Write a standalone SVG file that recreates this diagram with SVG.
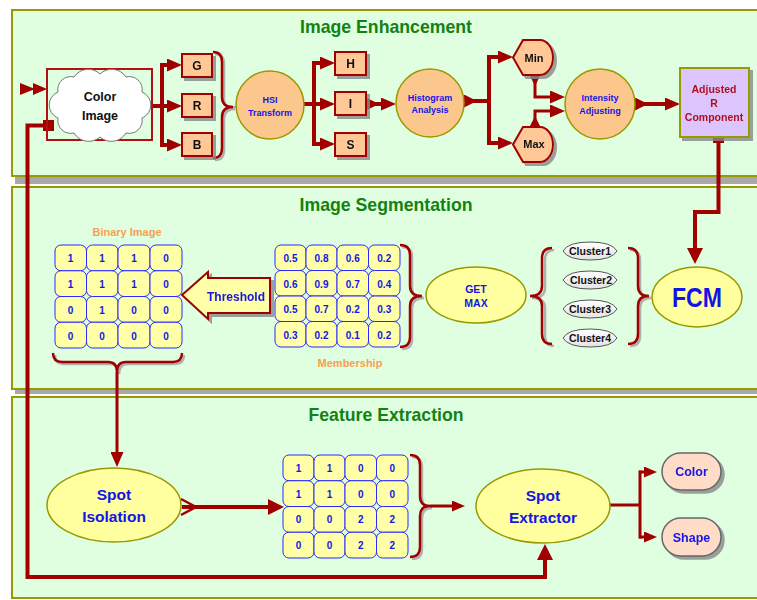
<svg xmlns="http://www.w3.org/2000/svg" width="757" height="600" viewBox="0 0 757 600">
  <defs>
    <style>
      .panel { fill: #e0ffe0; stroke: #999900; stroke-width: 2; }
      .band { fill: #a8a8a8; }
      .title { font-family: "Liberation Sans", Arial, sans-serif; font-weight: bold; font-size: 19px; fill: #128212; text-anchor: middle; }
      .lbl { font-family: "Liberation Sans", Arial, sans-serif; font-weight: bold; text-anchor: middle; }
      .blue { fill: #1414e6; }
      .blk { fill: #111; }
      .orange { fill: #f8a050; font-size: 11px; }
      .box { fill: #ffc896; stroke: #a00000; stroke-width: 2; }
      .circ { fill: #fcc78c; stroke: #999900; stroke-width: 1.5; }
      .ell { fill: #ffffa0; stroke: #999900; stroke-width: 1.5; }
      .cell { fill: #ffffa8; stroke: #2a2aff; stroke-width: 1; }
      .num { font-family: "Liberation Sans", Arial, sans-serif; font-weight: bold; font-size: 10px; fill: #1414e6; text-anchor: middle; }
      .wire { fill: none; stroke: #a00000; stroke-width: 4; }
      .thin { fill: none; stroke: #a00000; stroke-width: 3; }
      .brace { fill: none; stroke: #a00000; stroke-width: 2.5; }
      .braceSh { fill: none; stroke: #b0b0b0; stroke-width: 2.5; }
    </style>
    <marker id="ah" markerUnits="userSpaceOnUse" markerWidth="15" markerHeight="13" refX="10" refY="6.5" orient="auto">
      <path d="M0,0 L15,6.5 L0,13 Z" fill="#a00000"/>
    </marker>
    <marker id="ahBig" markerUnits="userSpaceOnUse" markerWidth="16" markerHeight="16" refX="11" refY="8" orient="auto">
      <path d="M0,0 L16,8 L0,16 Z" fill="#a00000"/>
    </marker>
    <marker id="ahSm" markerUnits="userSpaceOnUse" markerWidth="13" markerHeight="11" refX="9" refY="5.5" orient="auto">
      <path d="M0,0 L13,5.5 L0,11 Z" fill="#a00000"/>
    </marker>
    <marker id="st" markerUnits="userSpaceOnUse" markerWidth="13" markerHeight="13" refX="0" refY="6.5" orient="auto">
      <path d="M0,0 L13,6.5 L0,13 Z" fill="#a00000"/>
    </marker>
    <marker id="stSm" markerUnits="userSpaceOnUse" markerWidth="11" markerHeight="11" refX="0" refY="5.5" orient="auto">
      <path d="M0,0 L11,5.5 L0,11 Z" fill="#a00000"/>
    </marker>
    <filter id="sh" x="-20%" y="-20%" width="150%" height="150%">
      <feDropShadow dx="3" dy="3" stdDeviation="0.6" flood-color="#888" flood-opacity="0.8"/>
    </filter>
    <linearGradient id="clusterFill" x1="0" y1="0" x2="0" y2="1">
      <stop offset="0" stop-color="#ffffff"/>
      <stop offset="1" stop-color="#e4e4e4"/>
    </linearGradient>
  </defs>

  <!-- background panels -->
  <g id="panels">
    <rect x="0" y="0" width="757" height="600" fill="#ffffff"/>
    <rect class="panel" x="12" y="10" width="760" height="166"/>
    <rect class="band" x="15" y="177" width="742" height="7"/>
    <rect class="panel" x="12" y="187" width="760" height="202"/>
    <rect class="band" x="15" y="390" width="742" height="4"/>
    <rect class="panel" x="12" y="397" width="760" height="201"/>
    <text class="title" x="386" y="33" textLength="172" lengthAdjust="spacingAndGlyphs">Image Enhancement</text>
    <text class="title" x="386" y="211" textLength="173" lengthAdjust="spacingAndGlyphs">Image Segmentation</text>
    <text class="title" x="386" y="421" textLength="155" lengthAdjust="spacingAndGlyphs">Feature Extraction</text>
  </g>

  <!-- connectors -->
  <g id="connectors">
    <!-- input into the colour image -->
    <polygon points="20,83 35,89 20,95" fill="#a00000"/>
    <polygon points="33,83 47,89 33,95" fill="#a00000"/>

    <!-- colour image to G / R / B -->
    <path class="wire" d="M152,106 H162"/>
    <path class="wire" d="M162,63 V147"/>
    <path class="wire" d="M160,65 H177" marker-end="url(#ah)"/>
    <path class="wire" d="M160,106 H177" marker-end="url(#ah)"/>
    <path class="wire" d="M160,145 H177" marker-end="url(#ah)"/>

    <!-- brace gathering G / R / B into HSI -->
    <path class="braceSh" d="M215,54 Q224,54 224,64 V99 Q224,109 235,109 Q224,109 224,119 V150 Q224,160 215,160"/>
    <path class="brace" d="M213,52 Q222,52 222,62 V97 Q222,107 233,107 Q222,107 222,117 V148 Q222,158 213,158"/>
    <path d="M233,107 H237" stroke="#999" stroke-width="1.5"/>

    <!-- HSI to H / I / S -->
    <path class="wire" d="M304,104 H314"/>
    <path class="wire" d="M314,61 V146"/>
    <path class="wire" d="M312,63 H330" marker-end="url(#ah)"/>
    <path class="wire" d="M312,104 H330" marker-end="url(#ah)"/>
    <path class="wire" d="M312,144 H330" marker-end="url(#ah)"/>

    <!-- I to histogram analysis -->
    <path class="wire" d="M366,104 H391" marker-start="url(#st)" marker-end="url(#ah)"/>

    <!-- histogram analysis to Min / Max -->
    <path class="wire" d="M464,101 H489" marker-start="url(#st)"/>
    <path class="wire" d="M489,55 V145"/>
    <path class="wire" d="M487,57 H508" marker-end="url(#ah)"/>
    <path class="wire" d="M487,143 H508" marker-end="url(#ah)"/>

    <!-- Min / Max into intensity adjusting -->
    <path class="thin" d="M535,75 V97 H560" marker-start="url(#stSm)" marker-end="url(#ah)"/>
    <path class="thin" d="M535,127 V111 H560" marker-start="url(#stSm)" marker-end="url(#ah)"/>

    <!-- intensity adjusting to adjusted R component -->
    <path class="wire" d="M635,104 H675" marker-start="url(#st)" marker-end="url(#ah)"/>

    <!-- adjusted R component down to FCM -->
    <path class="wire" d="M718.5,137 V212 H695 V259" marker-end="url(#ahBig)"/>
    <rect x="713" y="132" width="11" height="11" fill="#a00000"/>

    <!-- braces around the clusters -->
    <path class="braceSh" d="M554,250 Q545,250 545,260 V288 Q545,298 532,298 Q545,298 545,308 V336 Q545,346 554,346"/>
    <path class="brace" d="M552,248 Q542,248 542,258 V286 Q542,296 530,296 Q542,296 542,306 V334 Q542,344 552,344"/>
    <path class="braceSh" d="M630,250 Q640,250 640,260 V288 Q640,298 651,298 Q640,298 640,308 V336 Q640,346 630,346"/>
    <path class="brace" d="M628,248 Q638,248 638,258 V286 Q638,296 649,296 Q638,296 638,306 V334 Q638,344 628,344"/>

    <!-- brace after the membership matrix -->
    <path class="braceSh" d="M402,247 Q412,247 412,257 V288 Q412,298 424,298 Q412,298 412,308 V339 Q412,349 402,349"/>
    <path class="brace" d="M400,245 Q410,245 410,255 V286 Q410,296 422,296 Q410,296 410,306 V337 Q410,347 400,347"/>

    <!-- brace under the binary image, down to spot isolation -->
    <path class="braceSh" d="M55,355 Q55,364 64,364 L110,364 Q119,364 119,374 Q119,364 128,364 L175,364 Q184,364 184,355"/>
    <path class="brace" d="M53,353 Q53,362 62,362 L108,362 Q117,362 117,372 Q117,362 126,362 L173,362 Q182,362 182,353"/>
    <path class="thin" d="M117,372 V462" marker-end="url(#ah)"/>

    <!-- loop from the colour image to the spot extractor -->
    <path class="wire" d="M48,125.5 H27.5 V577 H545 V549" marker-end="url(#ahBig)"/>
    <rect x="43" y="120" width="11" height="11" fill="#a00000"/>

    <!-- spot isolation to the labelled matrix -->
    <path class="wire" d="M182,507 H279" marker-end="url(#ahBig)"/>
    <path d="M181,499 L196,507 L181,515" fill="none" stroke="#a00000" stroke-width="2.5"/>

    <!-- brace after the labelled matrix, into spot extractor -->
    <path class="braceSh" d="M412,457 Q422,457 422,467 V498 Q422,508 432,508 Q422,508 422,518 V549 Q422,559 412,559"/>
    <path class="brace" d="M410,455 Q420,455 420,465 V496 Q420,506 430,506 Q420,506 420,516 V547 Q420,557 410,557"/>
    <path class="thin" d="M430,506 H461" marker-end="url(#ahSm)"/>

    <!-- spot extractor to Color / Shape -->
    <path class="thin" d="M610,505 H640"/>
    <path class="thin" d="M640,470.5 V538.5"/>
    <path class="thin" d="M639,472 H653" marker-end="url(#ahSm)"/>
    <path class="thin" d="M639,537 H653" marker-end="url(#ahSm)"/>
  </g>

  <!-- Image Enhancement nodes -->
  <g id="color-image">
    <rect x="47" y="69" width="105" height="71" fill="none" stroke="#b01010" stroke-width="2"/>
    <path d="M58,92 A13,13 0 0 1 74,77 A17,17 0 0 1 100,74 A17,17 0 0 1 126,77 A13,13 0 0 1 142,92 A14,14 0 0 1 142,118 A13,13 0 0 1 126,133 A17,17 0 0 1 100,137 A17,17 0 0 1 74,133 A13,13 0 0 1 58,118 A14,14 0 0 1 58,92 Z" fill="#ffffff" stroke="#777" stroke-width="1"/>
    <text class="lbl blk" x="100" y="101" font-size="12.5">Color</text>
    <text class="lbl blk" x="100" y="120" font-size="12.5">Image</text>
  </g>
  <g id="ch-g" filter="url(#sh)">
    <rect class="box" x="182" y="54" width="30" height="23"/>
    <text class="lbl blk" x="197" y="70" font-size="12">G</text>
  </g>
  <g id="ch-r" filter="url(#sh)">
    <rect class="box" x="182" y="94" width="30" height="23"/>
    <text class="lbl blk" x="197" y="110" font-size="12">R</text>
  </g>
  <g id="ch-b" filter="url(#sh)">
    <rect class="box" x="182" y="133" width="30" height="23"/>
    <text class="lbl blk" x="197" y="149" font-size="12">B</text>
  </g>
  <g id="hsi">
    <circle class="circ" cx="270" cy="105" r="34"/>
    <text class="lbl blue" x="270" y="103" font-size="9">HSI</text>
    <text class="lbl blue" x="270" y="116" font-size="9">Transform</text>
  </g>
  <g id="ch-h" filter="url(#sh)">
    <rect class="box" x="335" y="52" width="31" height="23"/>
    <text class="lbl blk" x="350.5" y="68" font-size="12">H</text>
  </g>
  <g id="ch-i" filter="url(#sh)">
    <rect class="box" x="335" y="92" width="31" height="23"/>
    <text class="lbl blk" x="350.5" y="108" font-size="12">I</text>
  </g>
  <g id="ch-s" filter="url(#sh)">
    <rect class="box" x="335" y="133" width="31" height="23"/>
    <text class="lbl blk" x="350.5" y="149" font-size="12">S</text>
  </g>
  <g id="histogram">
    <circle class="circ" cx="430" cy="103" r="34"/>
    <text class="lbl blue" x="430" y="101" font-size="9">Histogram</text>
    <text class="lbl blue" x="430" y="113" font-size="9">Analysis</text>
  </g>
  <g id="min" filter="url(#sh)">
    <path class="box" d="M513,57.5 L523,40 L540,40 A13,17.5 0 0 1 540,75 L523,75 Z"/>
    <text class="lbl blk" x="534" y="62" font-size="11">Min</text>
  </g>
  <g id="max" filter="url(#sh)">
    <path class="box" d="M513,144.5 L523,127 L540,127 A13,17.5 0 0 1 540,162 L523,162 Z"/>
    <text class="lbl blk" x="534" y="148" font-size="11">Max</text>
  </g>
  <g id="intensity">
    <circle class="circ" cx="600" cy="104" r="35"/>
    <text class="lbl blue" x="600" y="101" font-size="9">Intensity</text>
    <text class="lbl blue" x="600" y="114" font-size="9">Adjusting</text>
  </g>
  <g id="adjusted-r" filter="url(#sh)">
    <rect x="680" y="68" width="69" height="69" fill="#dcc4fc" stroke="#999900" stroke-width="2"/>
    <text class="lbl" x="714" y="93" font-size="10.5" fill="#b01020">Adjusted</text>
    <text class="lbl" x="714" y="107" font-size="10.5" fill="#b01020">R</text>
    <text class="lbl" x="714" y="121" font-size="10.5" fill="#b01020">Component</text>
  </g>

  <!-- Image Segmentation nodes -->
  <g id="binary-image">
    <text class="lbl orange" x="127" y="236">Binary Image</text>
    <rect class="cell" x="55" y="245" width="31.5" height="25.75" rx="6"/>
    <rect class="cell" x="86.5" y="245" width="31.5" height="25.75" rx="6"/>
    <rect class="cell" x="118" y="245" width="32" height="25.75" rx="6"/>
    <rect class="cell" x="150" y="245" width="32" height="25.75" rx="6"/>
    <rect class="cell" x="55" y="270.75" width="31.5" height="25.75" rx="6"/>
    <rect class="cell" x="86.5" y="270.75" width="31.5" height="25.75" rx="6"/>
    <rect class="cell" x="118" y="270.75" width="32" height="25.75" rx="6"/>
    <rect class="cell" x="150" y="270.75" width="32" height="25.75" rx="6"/>
    <rect class="cell" x="55" y="296.5" width="31.5" height="25.75" rx="6"/>
    <rect class="cell" x="86.5" y="296.5" width="31.5" height="25.75" rx="6"/>
    <rect class="cell" x="118" y="296.5" width="32" height="25.75" rx="6"/>
    <rect class="cell" x="150" y="296.5" width="32" height="25.75" rx="6"/>
    <rect class="cell" x="55" y="322.25" width="31.5" height="25.75" rx="6"/>
    <rect class="cell" x="86.5" y="322.25" width="31.5" height="25.75" rx="6"/>
    <rect class="cell" x="118" y="322.25" width="32" height="25.75" rx="6"/>
    <rect class="cell" x="150" y="322.25" width="32" height="25.75" rx="6"/>
    <text class="num" x="70.5" y="262">1</text><text class="num" x="102" y="262">1</text><text class="num" x="134" y="262">1</text><text class="num" x="166" y="262">0</text>
    <text class="num" x="70.5" y="288">1</text><text class="num" x="102" y="288">1</text><text class="num" x="134" y="288">1</text><text class="num" x="166" y="288">0</text>
    <text class="num" x="70.5" y="313.5">0</text><text class="num" x="102" y="313.5">1</text><text class="num" x="134" y="313.5">0</text><text class="num" x="166" y="313.5">0</text>
    <text class="num" x="70.5" y="339.5">0</text><text class="num" x="102" y="339.5">0</text><text class="num" x="134" y="339.5">0</text><text class="num" x="166" y="339.5">0</text>
  </g>
  <g id="threshold" filter="url(#sh)">
    <polygon points="182,295 208,272 208,278 270,278 270,313 208,313 208,319" fill="#ffffa8" stroke="#a00000" stroke-width="2"/>
    <text class="lbl blue" x="236" y="301" font-size="12">Threshold</text>
  </g>
  <g id="membership">
    <rect class="cell" x="275" y="245" width="31" height="25.5" rx="6"/>
    <rect class="cell" x="306" y="245" width="31" height="25.5" rx="6"/>
    <rect class="cell" x="337" y="245" width="31.5" height="25.5" rx="6"/>
    <rect class="cell" x="368.5" y="245" width="31.5" height="25.5" rx="6"/>
    <rect class="cell" x="275" y="270.5" width="31" height="25.5" rx="6"/>
    <rect class="cell" x="306" y="270.5" width="31" height="25.5" rx="6"/>
    <rect class="cell" x="337" y="270.5" width="31.5" height="25.5" rx="6"/>
    <rect class="cell" x="368.5" y="270.5" width="31.5" height="25.5" rx="6"/>
    <rect class="cell" x="275" y="296" width="31" height="25.5" rx="6"/>
    <rect class="cell" x="306" y="296" width="31" height="25.5" rx="6"/>
    <rect class="cell" x="337" y="296" width="31.5" height="25.5" rx="6"/>
    <rect class="cell" x="368.5" y="296" width="31.5" height="25.5" rx="6"/>
    <rect class="cell" x="275" y="321.5" width="31" height="25.5" rx="6"/>
    <rect class="cell" x="306" y="321.5" width="31" height="25.5" rx="6"/>
    <rect class="cell" x="337" y="321.5" width="31.5" height="25.5" rx="6"/>
    <rect class="cell" x="368.5" y="321.5" width="31.5" height="25.5" rx="6"/>
    <text class="num" x="290.5" y="262">0.5</text><text class="num" x="321.5" y="262">0.8</text><text class="num" x="352.75" y="262">0.6</text><text class="num" x="384.25" y="262">0.2</text>
    <text class="num" x="290.5" y="287.5">0.6</text><text class="num" x="321.5" y="287.5">0.9</text><text class="num" x="352.75" y="287.5">0.7</text><text class="num" x="384.25" y="287.5">0.4</text>
    <text class="num" x="290.5" y="313">0.5</text><text class="num" x="321.5" y="313">0.7</text><text class="num" x="352.75" y="313">0.2</text><text class="num" x="384.25" y="313">0.3</text>
    <text class="num" x="290.5" y="338.5">0.3</text><text class="num" x="321.5" y="338.5">0.2</text><text class="num" x="352.75" y="338.5">0.1</text><text class="num" x="384.25" y="338.5">0.2</text>
    <text class="lbl orange" x="350" y="367">Membership</text>
  </g>
  <g id="get-max">
    <ellipse class="ell" cx="476" cy="295" rx="50" ry="28"/>
    <text class="lbl blue" x="476" y="293" font-size="10.5">GET</text>
    <text class="lbl blue" x="476" y="307" font-size="10.5">MAX</text>
  </g>
  <g id="cluster1">
    <path d="M563,251 Q568,242 590,242 Q612,242 617,251 Q612,260 590,260 Q568,260 563,251 Z" fill="url(#clusterFill)" stroke="#555" stroke-width="1"/>
    <text class="lbl blk" x="590" y="255" font-size="10.5">Cluster1</text>
  </g>
  <g id="cluster2">
    <path d="M563,280 Q568,271 590,271 Q612,271 617,280 Q612,289 590,289 Q568,289 563,280 Z" fill="url(#clusterFill)" stroke="#555" stroke-width="1"/>
    <text class="lbl blk" x="591" y="284" font-size="10.5">Cluster2</text>
  </g>
  <g id="cluster3">
    <path d="M563,309 Q568,300 590,300 Q612,300 617,309 Q612,318 590,318 Q568,318 563,309 Z" fill="url(#clusterFill)" stroke="#555" stroke-width="1"/>
    <text class="lbl blk" x="590" y="313" font-size="10.5">Cluster3</text>
  </g>
  <g id="cluster4">
    <path d="M563,338 Q568,329 590,329 Q612,329 617,338 Q612,347 590,347 Q568,347 563,338 Z" fill="url(#clusterFill)" stroke="#555" stroke-width="1"/>
    <text class="lbl blk" x="590" y="342" font-size="10.5">Cluster4</text>
  </g>
  <g id="fcm">
    <ellipse class="ell" cx="697" cy="297" rx="45" ry="30"/>
    <text class="lbl blue" x="697" y="307" font-size="27" textLength="50" lengthAdjust="spacingAndGlyphs">FCM</text>
  </g>

  <!-- Feature Extraction nodes -->
  <g id="spot-isolation">
    <ellipse class="ell" cx="114" cy="505" rx="67" ry="37"/>
    <text class="lbl blue" x="114" y="500" font-size="15.5">Spot</text>
    <text class="lbl blue" x="114" y="522" font-size="15.5">Isolation</text>
  </g>
  <g id="labelled-spots">
    <rect class="cell" x="283" y="455" width="31" height="25.75" rx="6"/>
    <rect class="cell" x="314" y="455" width="31" height="25.75" rx="6"/>
    <rect class="cell" x="345" y="455" width="31.5" height="25.75" rx="6"/>
    <rect class="cell" x="376.5" y="455" width="31.5" height="25.75" rx="6"/>
    <rect class="cell" x="283" y="480.75" width="31" height="25.75" rx="6"/>
    <rect class="cell" x="314" y="480.75" width="31" height="25.75" rx="6"/>
    <rect class="cell" x="345" y="480.75" width="31.5" height="25.75" rx="6"/>
    <rect class="cell" x="376.5" y="480.75" width="31.5" height="25.75" rx="6"/>
    <rect class="cell" x="283" y="506.5" width="31" height="25.75" rx="6"/>
    <rect class="cell" x="314" y="506.5" width="31" height="25.75" rx="6"/>
    <rect class="cell" x="345" y="506.5" width="31.5" height="25.75" rx="6"/>
    <rect class="cell" x="376.5" y="506.5" width="31.5" height="25.75" rx="6"/>
    <rect class="cell" x="283" y="532.25" width="31" height="25.75" rx="6"/>
    <rect class="cell" x="314" y="532.25" width="31" height="25.75" rx="6"/>
    <rect class="cell" x="345" y="532.25" width="31.5" height="25.75" rx="6"/>
    <rect class="cell" x="376.5" y="532.25" width="31.5" height="25.75" rx="6"/>
    <text class="num" x="298.5" y="472">1</text><text class="num" x="329.5" y="472">1</text><text class="num" x="360.75" y="472">0</text><text class="num" x="392.25" y="472">0</text>
    <text class="num" x="298.5" y="497.5">1</text><text class="num" x="329.5" y="497.5">1</text><text class="num" x="360.75" y="497.5">0</text><text class="num" x="392.25" y="497.5">0</text>
    <text class="num" x="298.5" y="523">0</text><text class="num" x="329.5" y="523">0</text><text class="num" x="360.75" y="523">2</text><text class="num" x="392.25" y="523">2</text>
    <text class="num" x="298.5" y="549">0</text><text class="num" x="329.5" y="549">0</text><text class="num" x="360.75" y="549">2</text><text class="num" x="392.25" y="549">2</text>
  </g>
  <g id="spot-extractor">
    <ellipse class="ell" cx="543" cy="506" rx="67" ry="37"/>
    <text class="lbl blue" x="543" y="501" font-size="15.5">Spot</text>
    <text class="lbl blue" x="543" y="523" font-size="15.5">Extractor</text>
  </g>
  <g id="color-out" filter="url(#sh)">
    <rect x="662" y="453" width="59" height="37" rx="18.5" fill="#ffdcc8" stroke="#666" stroke-width="1.5"/>
    <text class="lbl blue" x="691.5" y="476" font-size="12.5">Color</text>
  </g>
  <g id="shape-out" filter="url(#sh)">
    <rect x="662" y="518" width="59" height="38" rx="19" fill="#ffdcc8" stroke="#666" stroke-width="1.5"/>
    <text class="lbl blue" x="691.5" y="542" font-size="12.5">Shape</text>
  </g>
</svg>
